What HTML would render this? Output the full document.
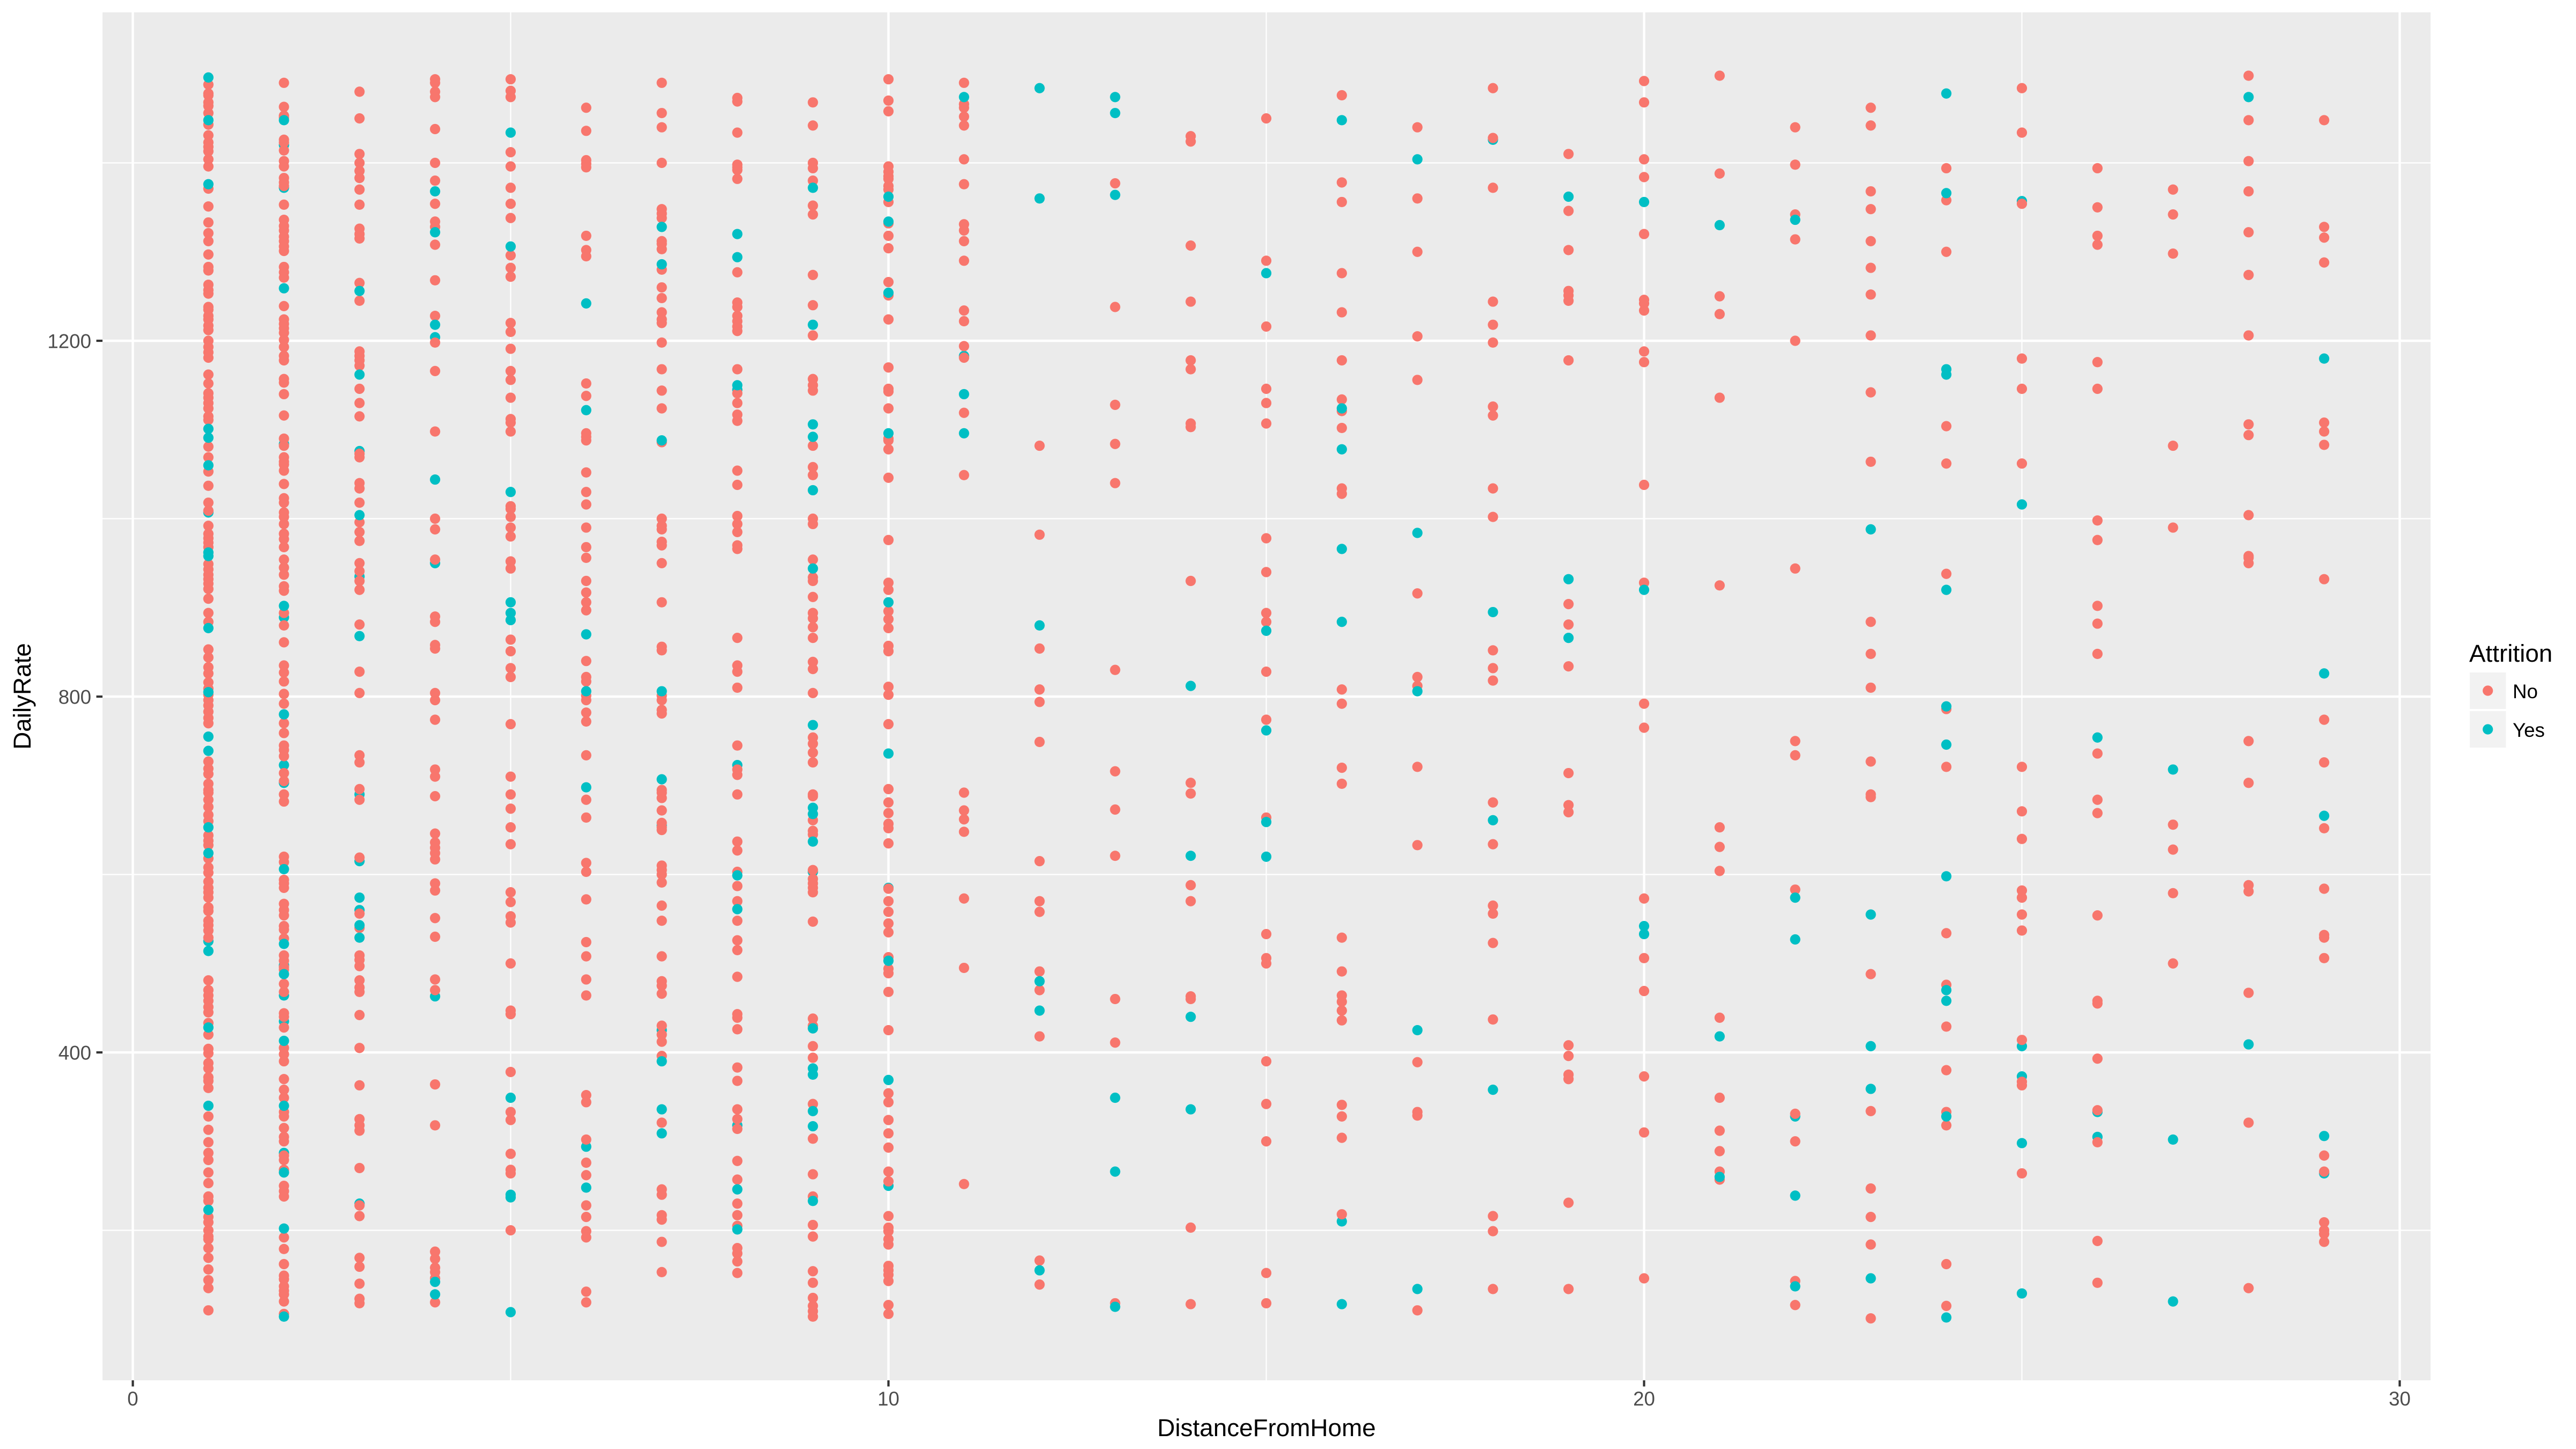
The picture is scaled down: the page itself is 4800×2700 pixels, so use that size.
<!DOCTYPE html>
<html lang="en">
<head>
<meta charset="utf-8">
<title>DailyRate by DistanceFromHome</title>
<style>
html,body{margin:0;padding:0;background:#fff;}
svg{display:block;font-family:"Liberation Sans",Arial,sans-serif;}
</style>
</head>
<body>
<svg id="chart" xmlns="http://www.w3.org/2000/svg" width="4800" height="2700" viewBox="0 0 4800 2700">
<rect x="0" y="0" width="4800" height="2700" fill="#ffffff"/>
<rect x="191" y="23" width="4338" height="2549" fill="#ebebeb"/>
<g id="grid"></g>
<g id="marks"></g>
<g id="axes"></g>
<text x="2360" y="2676" font-size="45.8" text-anchor="middle" fill="#000">DistanceFromHome</text>
<text transform="translate(57,1297.5) rotate(-90)" font-size="45.8" text-anchor="middle" fill="#000">DailyRate</text>
<g>
<text x="4601" y="1233" font-size="45.8" fill="#000">Attrition</text>
<g>
<rect x="4602" y="1253" width="67.5" height="68" fill="#f2f2f2"/>
<circle cx="4635.7" cy="1287" r="9.6" fill="#F8766D"/>
<text x="4682" y="1301" font-size="36.7" fill="#000">No</text>
</g>
<g>
<rect x="4602" y="1325" width="67.5" height="68" fill="#f2f2f2"/>
<circle cx="4635.7" cy="1359" r="9.6" fill="#00BFC4"/>
<text x="4682" y="1373" font-size="36.7" fill="#000">Yes</text>
</g>
</g>
</svg>
<script>
const xMajorTicks = [0, 10, 20, 30];
const xMinorTicks = [5, 15, 25];
const yMajorTicks = [400, 800, 1200];
const yMinorTicks = [200, 600, 1000, 1400];
const distances = [1,2,3,4,5,6,7,8,9,10,11,12,13,14,15,16,17,18,19,20,21,22,23,24,25,26,27,28,29];

const noRates = [
[1488,1478,1476,1468,1464,1456,1443,1431,1423,1418,1413,1404,1396,1371,1351,1333,1321,1312,1297,1283,1279,1263,1257,1253,1238,1235,1228,1224,1217,1212,1200,1193,1187,1181,1162,1152,1141,1136,1130,1124,1115,1111,1081,1069,1053,1037,1018,1009,992,983,978,973,968,949,943,937,932,927,921,910,894,884,853,844,833,826,816,809,802,796,790,783,776,770,727,719,713,702,695,692,684,676,667,660,644,638,633,618,608,602,592,585,580,574,563,559,548,543,537,529,481,470,464,458,451,445,433,420,404,399,388,382,372,368,360,328,313,299,287,279,265,253,238,233,215,209,200,193,190,180,169,156,144,135,110],
[1490,1463,1453,1451,1426,1423,1414,1402,1396,1383,1378,1374,1353,1336,1329,1324,1317,1312,1306,1301,1283,1277,1271,1239,1224,1219,1214,1209,1201,1193,1183,1178,1157,1153,1140,1116,1090,1082,1069,1064,1061,1054,1039,1023,1018,1007,1002,994,983,977,968,954,945,937,924,919,894,880,861,835,827,817,803,792,770,759,745,740,733,714,705,690,682,620,614,594,590,585,567,560,554,542,538,528,509,503,496,493,477,468,444,440,428,405,398,390,370,358,349,333,328,315,305,300,284,279,268,250,244,238,192,179,162,149,145,137,132,128,120,106],
[1480,1450,1410,1400,1391,1383,1370,1353,1326,1320,1315,1265,1245,1188,1183,1178,1172,1146,1130,1115,1073,1069,1040,1034,1018,996,985,975,950,941,930,920,881,828,804,734,726,696,684,619,556,540,509,504,497,481,473,468,442,405,363,325,318,312,270,228,216,169,159,140,123,118],
[1494,1490,1480,1474,1438,1400,1380,1354,1334,1328,1308,1268,1228,1198,1166,1098,1000,988,954,890,884,858,854,804,796,774,718,710,688,646,636,630,624,617,590,582,551,530,482,470,364,318,176,168,158,153,146,119],
[1494,1481,1474,1412,1396,1372,1354,1338,1296,1282,1272,1220,1210,1191,1166,1156,1136,1112,1108,1098,1014,1011,1002,990,980,952,944,864,851,832,822,769,710,690,674,653,634,580,569,553,546,500,447,443,378,333,324,286,268,264,200],
[1462,1436,1403,1399,1395,1318,1302,1295,1152,1138,1096,1092,1088,1052,1030,1016,990,968,956,930,917,906,897,840,822,817,801,796,782,772,734,684,664,613,603,572,524,508,482,464,352,344,302,276,262,228,215,199,192,131,119],
[1490,1456,1440,1400,1348,1343,1338,1312,1309,1303,1280,1260,1248,1232,1224,1220,1198,1168,1144,1124,1086,1000,992,988,974,970,950,906,856,852,801,796,785,781,695,692,686,672,658,653,650,610,605,600,591,565,548,508,480,475,466,430,420,412,396,321,246,240,217,212,187,153],
[1473,1469,1434,1398,1395,1392,1382,1277,1243,1238,1228,1222,1216,1211,1168,1141,1130,1117,1110,1054,1038,1003,994,985,970,966,866,835,828,810,745,718,712,690,637,627,603,587,570,548,526,515,485,443,439,426,383,368,336,325,314,278,257,230,217,205,180,174,165,152],
[1468,1442,1400,1394,1380,1352,1342,1274,1240,1206,1157,1150,1144,1082,1058,1049,1000,994,954,934,930,912,894,888,878,866,839,831,804,754,747,737,726,690,688,661,649,645,605,595,590,585,580,547,438,430,407,394,342,303,263,238,206,193,154,141,124,115,109,103],
[1494,1470,1458,1396,1390,1385,1382,1374,1370,1356,1332,1318,1304,1266,1251,1224,1170,1146,1143,1124,1090,1088,1078,1046,976,928,920,896,887,877,857,851,811,802,769,696,681,669,657,652,635,584,570,558,545,535,507,494,489,468,425,354,344,324,309,293,266,255,216,203,199,190,184,160,155,150,143,116,106],
[1490,1466,1462,1452,1442,1404,1376,1331,1324,1312,1290,1234,1222,1194,1181,1119,1049,692,672,662,648,573,495,252],
[1082,982,854,808,794,749,615,570,558,491,470,418,166,139],
[1377,1238,1128,1084,1040,830,716,673,621,460,411,118],
[1430,1424,1307,1244,1178,1168,1107,1103,930,703,691,588,570,463,460,203,117],
[1450,1290,1216,1146,1130,1107,978,940,894,884,828,774,664,533,506,500,390,342,300,152,118],
[1476,1378,1356,1276,1232,1178,1134,1121,1102,1034,1028,808,792,720,702,529,491,464,457,447,436,341,328,304,218],
[1440,1360,1300,1205,1156,916,822,812,721,633,389,333,329,110],
[1484,1428,1372,1244,1218,1198,1126,1116,1034,1002,852,832,818,681,634,565,556,523,437,216,199,134],
[1410,1346,1302,1256,1251,1245,1178,904,881,834,714,678,670,408,396,375,370,231,134],
[1492,1468,1404,1384,1320,1246,1242,1234,1188,1176,1038,928,792,765,573,506,469,373,310,146],
[1498,1388,1250,1230,1136,925,653,631,604,439,349,312,289,266,257],
[1440,1398,1342,1314,1200,944,750,734,583,331,300,143,116],
[1462,1442,1368,1348,1312,1282,1252,1206,1142,1064,884,848,810,727,690,687,488,334,247,215,184,101],
[1394,1358,1300,1104,1062,938,786,721,534,476,429,380,333,318,162,115],
[1484,1434,1354,1180,1146,1062,721,671,640,582,574,555,537,414,367,363,264],
[1394,1350,1318,1308,1176,1146,998,976,902,882,848,736,684,669,554,458,455,393,335,299,188,141],
[1370,1342,1298,1082,990,656,628,579,500],
[1498,1448,1402,1368,1322,1274,1206,1106,1094,1004,958,956,950,750,703,588,581,467,321,135],
[1448,1328,1316,1288,1108,1098,1083,932,774,726,652,584,532,529,506,284,266,209,200,196,187]
];

const yesFrontRates = [
[1496,1448,1376,1101,1091,1060,962,958,877,805,755,739,653,624,514,428,340,223],
[1448,1259,902,780,606,522,488,413,340,265,202,103],
[1256,1162,1004,868,574,543,529],
[1368,1322,1218,1044,142,128],
[1434,1306,1030,906,894,886,349,240,237,108],
[1242,1122,870,806,698,248],
[1328,1286,1088,806,707,390,336,309],
[1320,1294,1150,599,561,246,201],
[1372,1218,1106,1092,1032,944,768,675,668,637,427,382,375,334,317,233],
[1362,1334,1254,1096,906,736,503,369],
[1474,1140,1096],
[1484,1360,880,480,447,155],
[1474,1456,1364,349,266,114],
[812,621,440,336],
[1276,874,762,659,620],
[1448,1124,1078,966,884,117],
[1404,984,806,425,134],
[895,661,358],
[1362,932,866],
[1356,920,542,533],
[1330,418,260],
[1336,574,527,239,137],
[988,555,407,359,146],
[1478,1366,1168,1162,920,789,746,598,470,458,328,102],
[1016,298,129],
[754],
[718,302,120],
[1474,409],
[1180,826,666,306]
];

const yesBehindRates = [
[1007,525],
[1420,1372,1084,889,723,703,498,464,435,287],
[1076,935,690,615,560,230],
[1204,950,463],
[],
[294],
[655,425],
[1145,723,318],
[603],
[585,250],
[1183],
[],[],[],[],
[210],
[],
[1426],
[],[],[],
[328],
[],[],
[1357,407,373],
[333,305],
[],[],
[264]
];

const SVG_NS = 'http://www.w3.org/2000/svg';
const xScale = function (v) { return 247.5 + v * 140.8; };
const yScale = function (v) { return 635 + (1200 - v) * 1.6575; };
const PANEL = { left: 191, right: 4529, top: 23, bottom: 2572 };

function makeEl(tag) { return document.createElementNS(SVG_NS, tag); }

function drawLine(parent, x1, y1, x2, y2, w, color) {
  const l = makeEl('line');
  l.setAttribute('x1', x1);
  l.setAttribute('y1', y1);
  l.setAttribute('x2', x2);
  l.setAttribute('y2', y2);
  l.setAttribute('stroke', color);
  l.setAttribute('stroke-width', w);
  parent.appendChild(l);
  return l;
}

const grid = document.getElementById('grid');
yMinorTicks.forEach(function (v) {
  const el = drawLine(grid, PANEL.left, yScale(v), PANEL.right, yScale(v), 2.2, '#ffffff');
  
  
});
xMinorTicks.forEach(function (v) {
  const el = drawLine(grid, xScale(v), PANEL.top, xScale(v), PANEL.bottom, 2.2, '#ffffff');
  
  
});
yMajorTicks.forEach(function (v) {
  const el = drawLine(grid, PANEL.left, yScale(v), PANEL.right, yScale(v), 4.4, '#ffffff');
  
  
});
xMajorTicks.forEach(function (v) {
  const el = drawLine(grid, xScale(v), PANEL.top, xScale(v), PANEL.bottom, 4.4, '#ffffff');
  
  
});

const axes = document.getElementById('axes');
xMajorTicks.forEach(function (v) {
  const tick = drawLine(axes, xScale(v), PANEL.bottom, xScale(v), PANEL.bottom + 11.5, 4.2, '#333333');
  
  
  const label = makeEl('text');
  
  
  label.setAttribute('x', xScale(v));
  label.setAttribute('y', 2619);
  label.setAttribute('font-size', 36.7);
  label.setAttribute('text-anchor', 'middle');
  label.setAttribute('fill', '#4d4d4d');
  label.textContent = String(v);
  axes.appendChild(label);
});
yMajorTicks.forEach(function (v) {
  const tick = drawLine(axes, PANEL.left - 11.5, yScale(v), PANEL.left, yScale(v), 4.2, '#333333');
  
  
  const label = makeEl('text');
  
  
  label.setAttribute('x', 170);
  label.setAttribute('y', yScale(v) + 13.3);
  label.setAttribute('font-size', 36.7);
  label.setAttribute('text-anchor', 'end');
  label.setAttribute('fill', '#4d4d4d');
  label.textContent = String(v);
  axes.appendChild(label);
});

const marks = document.getElementById('marks');
function drawSeries(rates, color, name) {
  distances.forEach(function (d, i) {
    (rates[i] || []).forEach(function (r) {
      const c = makeEl('circle');
      
      
      c.setAttribute('cx', xScale(d));
      c.setAttribute('cy', yScale(r));
      c.setAttribute('r', 9.6);
      c.setAttribute('fill', color);
      marks.appendChild(c);
    });
  });
}
drawSeries(yesBehindRates, '#00BFC4', 'point-yes');
drawSeries(noRates, '#F8766D', 'point-no');
drawSeries(yesFrontRates, '#00BFC4', 'point-yes');
</script>
</body>
</html>
